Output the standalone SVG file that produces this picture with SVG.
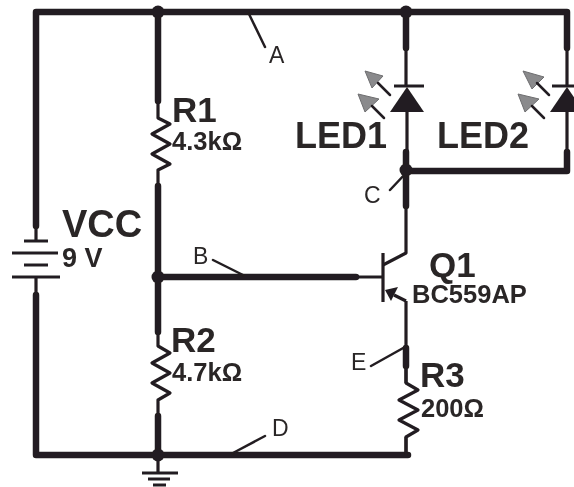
<svg xmlns="http://www.w3.org/2000/svg" width="574" height="487" viewBox="0 0 574 487">
<style>
text{font-family:"Liberation Sans",Arial,sans-serif;fill:#2a2728}
.b{font-weight:700;font-size:35px}
.v{font-size:25.5px;font-weight:700}
.l{font-size:23px}
.thick{fill:none;stroke:#231f20;stroke-width:6.5;stroke-linecap:round;stroke-linejoin:round}
.thin{fill:none;stroke:#231f20;stroke-width:3.2;stroke-linecap:butt;stroke-linejoin:round}
.lead{fill:none;stroke:#231f20;stroke-width:2.5;stroke-linecap:round}
.dot{fill:#231f20}
.ga{fill:#8a8a8c;stroke:#6d6d6f;stroke-width:1}
</style>
<defs><filter id="s" x="-5%" y="-5%" width="110%" height="110%"><feGaussianBlur stdDeviation="0.45"/></filter></defs>
<rect width="574" height="487" fill="#fff"/>
<g filter="url(#s)">
<g id="connectors">
<path class="thick" d="M36 226V12H567V48"/>
<path class="thick" d="M36 295V455H408"/>
<path class="thick" d="M158 12V101M158 186V332M158 416V455"/>
<path class="thick" d="M158 277H356"/>
<path class="thick" d="M406 12V48M406 152V206M406 171H567V152"/>
<path class="thick" d="M406 348V366"/>
<path class="thin" d="M356 277H383M406 206V253L383 265M406 301V348M406 366V383M406 437V455"/>
<path class="lead" d="M249 14L265 47M213 260L243 275M390 190L406 173M233 453L265 436M371 366L405 347"/>
</g>
<g id="VCC">
<path class="thin" d="M36 226V241M24 241H48M12 253H58M24 265H48M12 277H60M36 277V295"/>
<text class="b" x="62" y="237" style="font-size:38px">VCC</text>
<text class="v" x="62" y="267" style="font-size:27px">9 V</text>
</g>
<g id="R1">
<path class="thin" d="M158 101V118L170 124L152 134L170 144L152 154L170 164L158 170V186"/>
<text class="b" x="172" y="122">R1</text>
<text class="v" x="172" y="150">4.3kΩ</text>
</g>
<g id="R2">
<path class="thin" d="M158 332V346L170 353L152 363L170 373L152 383L170 393L158 400V416"/>
<text class="b" x="171" y="352">R2</text>
<text class="v" x="172" y="381">4.7kΩ</text>
</g>
<g id="R3">
<path class="thin" d="M406 366V383L418 390L399 400L418 410L399 420L418 430L406 437V455"/>
<text class="b" x="420" y="387">R3</text>
<text class="v" x="421" y="417">200Ω</text>
</g>
<g id="Q1">
<path class="thin" d="M383 253V302M394 295L406 301"/>
<path class="dot" d="M385 290L398 287L391 301Z"/>
<text class="b" x="429" y="277">Q1</text>
<text class="v" x="412" y="303">BC559AP</text>
</g>
<g id="LED1">
<path class="thin" d="M406 48V87M394 86H424M407 111V152"/>
<path class="dot" d="M407 87L424 112H390Z"/>
<path class="ga" d="M365 71L383 76L372 88Z"/><path class="ga" d="M358 94L379 99L365 112Z"/>
<path class="lead" d="M390 95L378 83M384 118L372 106"/>
<text class="b" x="295" y="148" style="font-size:36px">LED1</text>
</g>
<g id="LED2">
<path class="thin" d="M567 48V87M552 86H574M567 111V152"/>
<path class="dot" d="M567 87L584 112H550Z"/>
<path class="ga" d="M523 71L544 77L532 89Z"/><path class="ga" d="M518 94L539 99L525 112Z"/>
<path class="lead" d="M549 95L537 83M544 118L532 106"/>
<text class="b" x="437" y="148" style="font-size:36px">LED2</text>
</g>
<g id="GND">
<path class="thin" d="M158 455V473M142 473H178M148 479H170M153 485H166"/>
</g>
<g id="junctions">
<circle class="dot" cx="158" cy="12" r="6.5"/><circle class="dot" cx="406" cy="12" r="6.5"/>
<circle class="dot" cx="406" cy="170" r="6.5"/><circle class="dot" cx="158" cy="277" r="6.5"/>
<circle class="dot" cx="158" cy="455" r="6.5"/>
</g>
<g id="labels">
<text class="l" x="269" y="63">A</text><text class="l" x="193" y="264">B</text>
<text class="l" x="364" y="203">C</text><text class="l" x="272" y="436">D</text>
<text class="l" x="351" y="370">E</text>
</g>
</g>
</svg>
